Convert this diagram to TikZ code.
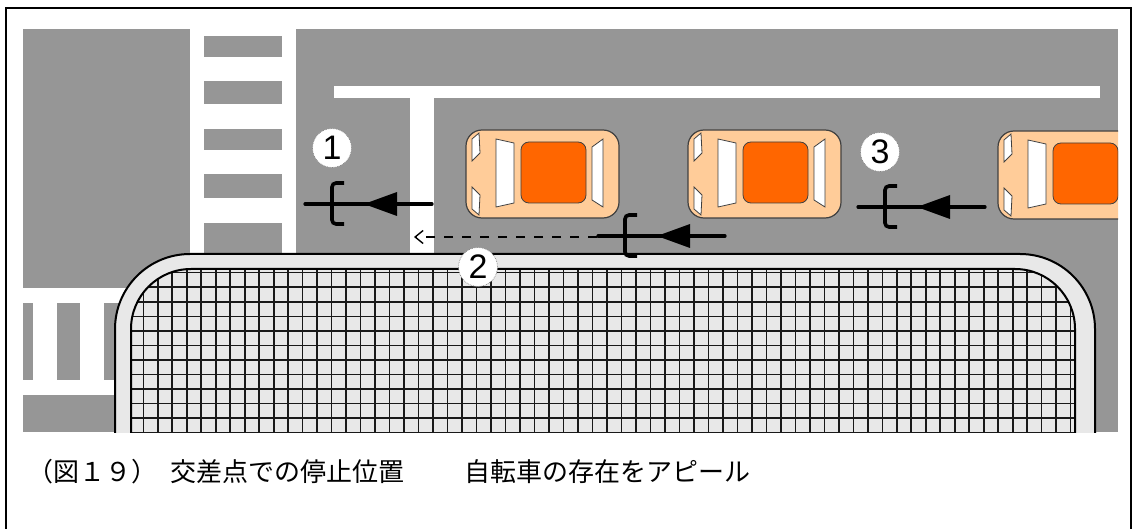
\documentclass[tikz,border=0pt]{standalone}
\usepackage{fontspec}
\usepackage{tikz}
\usetikzlibrary{arrows.meta}
\newfontfamily\jpfont{Noto Sans CJK JP}
\newfontfamily\numfont{Liberation Sans}
\definecolor{road}{RGB}{150,150,150}
\definecolor{curb}{RGB}{232,232,232}
\definecolor{carbody}{RGB}{255,204,153}
\definecolor{carroof}{RGB}{255,102,0}
\tikzset{
  numcirc/.style={circle, fill=white, draw=black!50, densely dotted, line width=0.7,
    minimum size=39, inner sep=0, font=\numfont\fontsize{34}{34}\selectfont},
  bikeline/.style={line width=3.2, line cap=round},
  glass/.style={fill=white, draw=black!75, line width=0.8},
  gridline/.style={line width=1.6, black!90},
  % car seen from above, origin at its top left corner
  car/.pic={
    \filldraw[fill=carbody, draw=black!75, line width=1.2, rounded corners=16] (0,0) rectangle (153,88);
    \filldraw[glass] (6,9) -- (13,3) -- (14,23) -- (6,31) -- cycle;
    \filldraw[glass] (6,57) -- (14,65) -- (13,85) -- (6,79) -- cycle;
    \filldraw[glass] (30,9) -- (48,13) -- (48,73) -- (30,77) -- cycle;
    \filldraw[fill=carroof, draw=black!75, line width=0.8, rounded corners=8] (55,12) rectangle (120,73);
    \filldraw[glass] (126,17) -- (137,9) -- (137,77) -- (126,70) -- cycle;
  },
  % bicycle with its direction, origin at the bracket
  bike/.pic={
    \draw[bikeline] (-27,0) -- (100,0);
    \fill (32,0) -- (65,-12) -- (65,12) -- cycle;
    \draw[line width=3.6, rounded corners=4] (12,-21) -- (0,-21) -- (0,20) -- (12,20);
  }
}

\begin{document}
\begin{tikzpicture}[x=1pt, y=-1pt]
\useasboundingbox (0,0) rectangle (1135,529);
\draw[line width=1.6] (6,529) -- (6,8) -- (1131,8) -- (1131,529);

\begin{scope}
\clip (23,29) rectangle (1118,432);
\fill[road] (23,29) rectangle (1118,432);
% crossings
\fill[white] (190,29) rectangle (296,254);
\foreach \ya/\yb in {36/57, 81/104, 129/150, 174/198, 223/260}
  \fill[road] (204,\ya) rectangle (282,\yb);
\fill[white] (23,288) rectangle (130,395);
\foreach \xa/\xb in {23/33, 57/80, 104/130}
  \fill[road] (\xa,303) rectangle (\xb,380);
% lane line and stop line
\fill[white] (334,86) rectangle (1100,98);
\fill[white] (410,98) rectangle (434,254);
% corner block
\filldraw[fill=curb, line width=2, rounded corners=75] (115,254) rectangle (1095,530);
\begin{scope}
\clip[rounded corners=60] (131,269) rectangle (1075,520);
\foreach \i in {0,...,64}
  \draw[gridline] (143.3+\i*14.49,260) -- (143.3+\i*14.49,440);
\foreach \j in {0,...,12}
  \draw[gridline] (120,272.7+\j*14.55) -- (1090,272.7+\j*14.55);
\end{scope}
\draw[line width=2, rounded corners=60] (131,530) -- (131,269) -- (1075,269) -- (1075,530);
% cars
\pic at (466,130) {car};
\pic at (688,130) {car};
\pic at (998,131) {car};
% bicycles
\pic at (332,204) {bike};
\pic at (625,236) {bike};
\pic at (885,207) {bike};
\end{scope}

\coordinate (b2w) at (597,237);
\coordinate (stopline) at (414,237);
\draw[line width=1.4, dash pattern=on 9 off 9, -{Straight Barb[length=8,width=13]}] (b2w) -- (stopline);

\node[numcirc] (n1) at (332,148) {1};
\node[numcirc] (n2) at (478,267) {2};
\node[numcirc] (n3) at (880,152) {3};

\node[anchor=west, inner sep=0, font=\jpfont\fontsize{26}{30}\selectfont] (caption) at (27,472)
  {（図１９）\hspace{13pt}交差点での停止位置\hspace{60pt}自転車の存在をアピール};
\end{tikzpicture}
\end{document}
